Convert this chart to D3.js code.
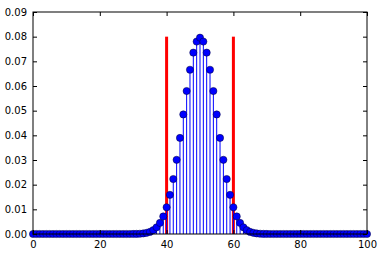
<!DOCTYPE html>
<html>
<head>
<meta charset="utf-8">
<script src="https://cdn.jsdelivr.net/npm/d3@7"></script>
<style>
  body { margin: 0; background: #fff; }
  svg { display: block; }
  .tick text { font-family: "DejaVu Sans", sans-serif; font-size: 10px; fill: #000; }
</style>
</head>
<body>
<script>
// number of successes k (0..100)
const successes = [
  0,1,2,3,4,5,6,7,8,9,10,11,12,13,14,15,16,17,18,19,20,
  21,22,23,24,25,26,27,28,29,30,31,32,33,34,35,36,37,38,39,40,
  41,42,43,44,45,46,47,48,49,50,51,52,53,54,55,56,57,58,59,60,
  61,62,63,64,65,66,67,68,69,70,71,72,73,74,75,76,77,78,79,80,
  81,82,83,84,85,86,87,88,89,90,91,92,93,94,95,96,97,98,99,100
];

// probability of each k
const probability = [
  0,0,0,0,0,0,0,0,0,0, 0,0,0,0,0,0,0,0,0,0, 0,0,0,0,0,0,0,0,0,0,
  0.00002,0.00005,0.00011,0.00023,0.00046,0.00086,0.00156,0.00271,0.00448,0.00711,
  0.01084,0.01587,0.02229,0.03007,0.03895,0.04847,0.05796,0.06659,0.07353,0.07801,
  0.07959,
  0.07801,0.07353,0.06659,0.05796,0.04847,0.03895,0.03007,0.02229,0.01587,0.01084,
  0.00711,0.00448,0.00271,0.00156,0.00086,0.00046,0.00023,0.00011,0.00005,0.00002,
  0,0,0,0,0,0,0,0,0,0, 0,0,0,0,0,0,0,0,0,0, 0,0,0,0,0,0,0,0,0,0
];

// red bound lines
const boundX = [40, 60];
const boundTop = 0.08;

const xTicks = [0, 20, 40, 60, 80, 100];
const yTicks = [0, 0.01, 0.02, 0.03, 0.04, 0.05, 0.06, 0.07, 0.08, 0.09];

var margin = {top: 12, right: 15, bottom: 22, left: 33},
    width = 382 - margin.left - margin.right,
    height = 256 - margin.top - margin.bottom;

var svg = d3.select("body")
  .append("svg")
    .attr("width", 382)
    .attr("height", 256)
  .append("g")
    .attr("transform", "translate(" + margin.left + "," + margin.top + ")");

var x = d3.scaleLinear().domain([0, 100]).range([0, width]);
var y = d3.scaleLinear().domain([0, 0.09]).range([height, 0]);

// red vertical lines
svg.selectAll("line.bound")
  .data(boundX)
  .enter()
  .append("line")
    .attr("class", "bound")
    .attr("x1", d => x(d)).attr("x2", d => x(d))
    .attr("y1", y(0)).attr("y2", y(boundTop))
    .attr("stroke", "#ff0000")
    .attr("stroke-width", 3);

var pts = successes.map((k, i) => ({k: k, p: probability[i]}));

// stems
svg.selectAll("line.stem")
  .data(pts)
  .enter()
  .append("line")
    .attr("class", "stem")
    .attr("x1", d => x(d.k)).attr("x2", d => x(d.k))
    .attr("y1", y(0)).attr("y2", d => y(d.p))
    .attr("stroke", "#0000ff")
    .attr("stroke-width", 1);

// markers
svg.selectAll("circle")
  .data(pts)
  .enter()
  .append("circle")
    .attr("cx", d => x(d.k))
    .attr("cy", d => y(d.p))
    .attr("r", 3.6)
    .attr("fill", "#0000ff")
    .attr("stroke", "#000033")
    .attr("stroke-width", 0.5);

// axes, classic style ticks pointing inward
svg.append("g")
  .attr("transform", "translate(0," + height + ")")
  .call(d3.axisBottom(x).tickValues(xTicks).tickSize(-4).tickPadding(7).tickFormat(d3.format("d")))
  .call(g => g.select(".domain").remove());
svg.append("g")
  .call(d3.axisTop(x).tickValues(xTicks).tickSize(-4).tickFormat(""))
  .call(g => g.select(".domain").remove());
svg.append("g")
  .call(d3.axisLeft(y).tickValues(yTicks).tickSize(-4).tickPadding(6).tickFormat(d3.format(".2f")))
  .call(g => g.select(".domain").remove());
svg.append("g")
  .attr("transform", "translate(" + width + ",0)")
  .call(d3.axisRight(y).tickValues(yTicks).tickSize(-4).tickFormat(""))
  .call(g => g.select(".domain").remove());

svg.selectAll(".tick line").attr("stroke", "#000");

// frame
svg.append("rect")
  .attr("x", 0).attr("y", 0)
  .attr("width", width).attr("height", height)
  .attr("fill", "none")
  .attr("stroke", "#000")
  .attr("stroke-width", 1);
</script>
</body>
</html>
